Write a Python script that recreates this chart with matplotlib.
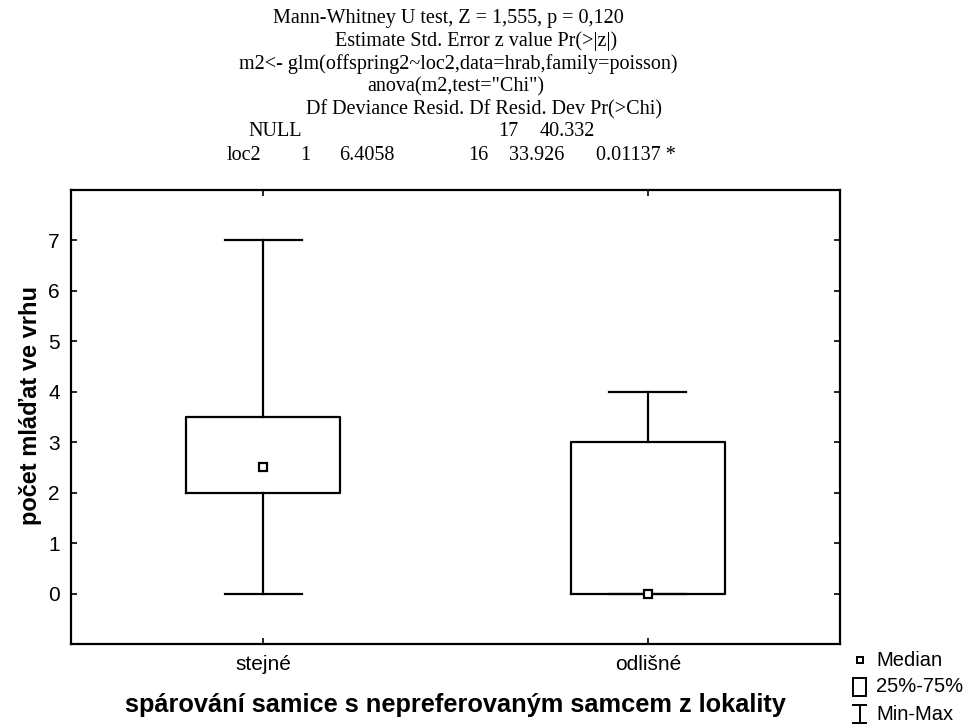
import matplotlib
matplotlib.use("Agg")
import matplotlib.pyplot as plt
from matplotlib.lines import Line2D
from matplotlib.patches import Rectangle

# box plot summary (median, quartiles, min-max)
groups = ["stejné", "odlišné"]
medians = [2.5, 0.0]
q1s = [2.0, 0.0]
q3s = [3.5, 3.0]
mins = [0.0, 0.0]
maxs = [7.0, 4.0]

yticks = [0, 1, 2, 3, 4, 5, 6, 7]

header_lines = [
    "Mann-Whitney U test, Z = 1,555, p = 0,120",
    "Estimate Std. Error z value Pr(>|z|)",
    "m2<- glm(offspring2~loc2,data=hrab,family=poisson)",
    "anova(m2,test=\"Chi\")",
    "Df Deviance Resid. Df Resid. Dev Pr(>Chi)",
]
null_row = ["NULL", "17", "40.332"]
loc_row = ["loc2", "1", "6.4058", "16", "33.926", "0.01137 *"]

W, H = 968, 726
fig = plt.figure(figsize=(W / 100, H / 100), dpi=100)
ax = fig.add_axes([71 / W, 1 - 644 / H, 769 / W, 454 / H])

stats = []
for i in range(len(groups)):
    stats.append(dict(med=medians[i], q1=q1s[i], q3=q3s[i],
                      whislo=mins[i], whishi=maxs[i], fliers=[]))

lp = dict(color="black", linewidth=1.6)
ax.bxp(stats, positions=[1, 2], widths=0.4, capwidths=0.2,
       boxprops=lp, whiskerprops=lp, capprops=lp,
       medianprops=dict(linestyle="none"), showfliers=False,
       manage_ticks=False)
ax.plot([1, 2], medians, linestyle="none", marker="s", markersize=6,
        markerfacecolor="white", markeredgecolor="black", markeredgewidth=1.6,
        zorder=5)

ax.set_xlim(0.5, 2.5)
ax.set_ylim(-1, 8)
ax.set_xticks([1, 2])
ax.set_xticklabels(groups, fontsize=15, family="Liberation Sans")
ax.set_yticks(yticks)
ax.set_yticklabels([str(v) for v in yticks], fontsize=15, family="Liberation Sans")
ax.tick_params(direction="in", length=4, width=1.2, top=True, right=True,
               pad=8)
for sp in ax.spines.values():
    sp.set_linewidth(1.6)

ax.set_ylabel("počet mláďat ve vrhu", fontsize=17, fontweight="bold",
              family="Liberation Sans", va="center")
ax.yaxis.set_label_coords(-0.053, 0.526)
fig.text(455 / W, 1 - 705 / H, "spárování samice s nepreferovaným samcem z lokality",
         ha="center", va="center", fontsize=18.3, fontweight="bold",
         family="Liberation Sans")

# header text (R output pasted on top)
serif = dict(family="Liberation Serif", fontsize=14.5, va="center", ha="left")
line_x = [273, 335, 239, 367, 306]
line_y = [18, 41, 64, 87, 110]
for txt, x, y in zip(header_lines, line_x, line_y):
    fig.text(x / W, 1 - y / H, txt, **serif)
for txt, x in zip(null_row, [248, 498, 540]):
    fig.text(x / W, 1 - 132 / H, txt, **serif)
for txt, x in zip(loc_row, [227, 300, 339, 468, 509, 596]):
    fig.text(x / W, 1 - 155 / H, txt, **serif)

# legend
def fx(x):
    return x / W

def fy(y):
    return 1 - y / H

fig.add_artist(Line2D([fx(860)], [fy(660)], marker="s", markersize=5,
                      markerfacecolor="white", markeredgecolor="black",
                      markeredgewidth=1.4, linestyle="none"))
fig.add_artist(Rectangle((fx(853), fy(696)), fx(866) - fx(853), fy(678) - fy(696),
                         fill=False, edgecolor="black", linewidth=1.4))
fig.add_artist(Line2D([fx(859.5), fx(859.5)], [fy(705), fy(723)], color="black", lw=1.4))
fig.add_artist(Line2D([fx(853), fx(866)], [fy(705), fy(705)], color="black", lw=1.4))
fig.add_artist(Line2D([fx(853), fx(866)], [fy(723), fy(723)], color="black", lw=1.4))
for txt, y in zip(["Median", "25%-75%", "Min-Max"], [660, 687, 714]):
    fig.text(fx(876), fy(y), txt, fontsize=14.5, family="Liberation Sans",
             ha="left", va="center")

fig.savefig("out.png", dpi=100)
